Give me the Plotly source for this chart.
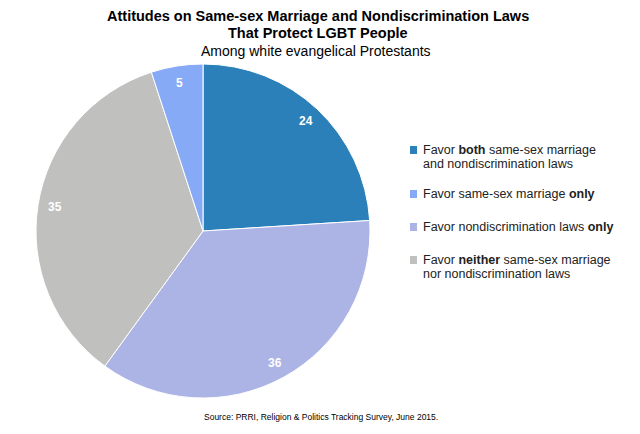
import math
import plotly.graph_objects as go

# Data (pie order, clockwise from 12 o'clock)
pie_labels = ["Favor both", "Favor nondiscrimination laws only", "Favor neither", "Favor same-sex marriage only"]
pie_values = [24, 36, 35, 5]
pie_colors = ["#2b80b9", "#abb4e4", "#c0c0bf", "#87aaf6"]

# Legend (reference order), one entry per line
legend_lines = [
    ["Favor <b>both</b> same-sex marriage", "and nondiscrimination laws"],
    ["Favor same-sex marriage <b>only</b>"],
    ["Favor nondiscrimination laws <b>only</b>"],
    ["Favor <b>neither</b> same-sex marriage", "nor nondiscrimination laws"],
]
legend_colors = ["#2b80b9", "#87aaf6", "#abb4e4", "#c0c0bf"]

W, H = 640, 434
OFF = 8  # page body margin
FONT = "Liberation Sans, Arial, sans-serif"


def px(x):
    return (x - OFF) / W


def py(y):
    return 1 - (y - OFF) / H


# pie geometry in pixels
CX, CY, R = 203, 231, 167

fig = go.Figure()
fig.add_trace(go.Pie(
    labels=pie_labels, values=pie_values, sort=False, direction="clockwise",
    rotation=0,
    marker=dict(colors=pie_colors, line=dict(color="white", width=1)),
    textinfo="none",
    domain=dict(x=[px(CX - R), px(CX + R)], y=[py(CY + R), py(CY - R)]),
    showlegend=False, hoverinfo="label+value",
))

annotations = [
    dict(text="<b>Attitudes on Same-sex Marriage and Nondiscrimination Laws</b>",
         x=px(318), y=py(16), font=dict(size=14.5, color="black", family=FONT)),
    dict(text="<b>That Protect LGBT People</b>",
         x=px(318), y=py(33), font=dict(size=14.5, color="black", family=FONT)),
    dict(text="Among white evangelical Protestants",
         x=px(316), y=py(51), font=dict(size=14, color="black", family=FONT)),
    dict(text="Source: PRRI, Religion &amp; Politics Tracking Survey, June 2015.",
         x=px(321), y=py(417), font=dict(size=8.5, color="black", family=FONT)),
]
for a in annotations:
    a.update(xref="paper", yref="paper", showarrow=False, xanchor="center", yanchor="middle")

# value labels placed along each slice's mid-angle
total = sum(pie_values)
cum = 0
for v in pie_values:
    mid = (cum + v / 2) / total * 2 * math.pi
    cum += v
    rr = 0.9 * R
    x = CX + rr * math.sin(mid)
    y = CY - rr * math.cos(mid)
    annotations.append(dict(text=f"<b>{v}</b>", x=px(x), y=py(y), xref="paper", yref="paper",
                            showarrow=False, xanchor="center", yanchor="middle",
                            font=dict(size=12, color="white", family=FONT)))

shapes = []
first_line_y = [150, 194, 227, 260]
for lines, col, yy in zip(legend_lines, legend_colors, first_line_y):
    shapes.append(dict(type="rect", xref="paper", yref="paper",
                       x0=px(410), x1=px(417), y0=py(yy + 4), y1=py(yy - 4),
                       fillcolor=col, line=dict(width=0)))
    for i, t in enumerate(lines):
        annotations.append(dict(text=t, xref="paper", yref="paper", x=px(421), y=py(yy + 14 * i),
                                xanchor="left", yanchor="middle", align="left", showarrow=False,
                                font=dict(size=12.5, color="#222222", family=FONT)))

fig.update_layout(
    width=W, height=H, margin=dict(l=0, r=0, t=0, b=0),
    paper_bgcolor="white", plot_bgcolor="white",
    annotations=annotations, shapes=shapes, showlegend=False,
)
fig.write_html("out.html")
